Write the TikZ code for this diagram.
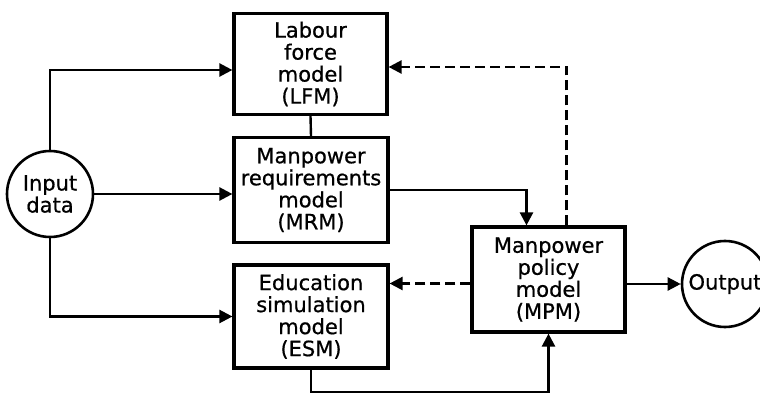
\documentclass[tikz,border=0pt]{standalone}
\usepackage{fontspec}
\setmainfont{DejaVu Sans}[FakeBold=0.7]
\usetikzlibrary{arrows.meta}

\tikzset{
        modelbox/.style={draw, line width=3.2pt, align=center, inner sep=0pt},
        termcircle/.style={draw, circle, line width=2.6pt, align=center, minimum size=86pt, inner sep=0pt},
        flow/.style={line width=2.4pt, -{Triangle[length=13pt,width=13pt]}},
        feedback/.style={flow, dash pattern=on 10pt off 5pt},
        link/.style={line width=2.4pt}
}

\begin{document}
\begin{tikzpicture}[x=1pt, y=-1pt, font=\fontsize{21}{22}\selectfont]
        \useasboundingbox (0,0) rectangle (760,395);

        \node (LFM) [modelbox, minimum width=153pt, minimum height=101pt] at (310.5,64) {Labour\\force\\model\\(LFM)};
        \node (MRM) [modelbox, minimum width=154pt, minimum height=105pt] at (311,190) {Manpower\\requirements\\model\\(MRM)};
        \node (ESM) [modelbox, minimum width=154pt, minimum height=103pt] at (311,316.5) {Education\\simulation\\model\\(ESM)};
        \node (MPM) [modelbox, minimum width=153pt, minimum height=105pt] at (548.5,279.5) {Manpower\\policy\\model\\(MPM)};
        \node (In) [termcircle] at (50,194) {Input\\data};
        \node (Out) [termcircle] at (725,284) {Output};
        \coordinate (Loop) at (313,392);
        \coordinate (Back) at ([yshift=-4pt]MPM.west);

        \draw[flow] (In.north) |- ([yshift=-6pt]LFM.west);
        \draw[flow] (In.east) -- (MRM.west |- In.east);
        \draw[flow] (In.south) |- (ESM.west);
        \draw[link] (LFM.south) -- (MRM.north);
        \draw[flow] (MRM.east) -| ([xshift=-22pt]MPM.north);
        \draw[feedback] ([xshift=18pt]MPM.north) |- ([yshift=-3pt]LFM.east);
        \draw[feedback] (Back) -- (ESM.east |- Back);
        \draw[flow] (ESM.south) |- (Loop) -| (MPM.south);
        \draw[flow] (MPM.east |- Out.west) -- (Out.west);
\end{tikzpicture}
\end{document}
